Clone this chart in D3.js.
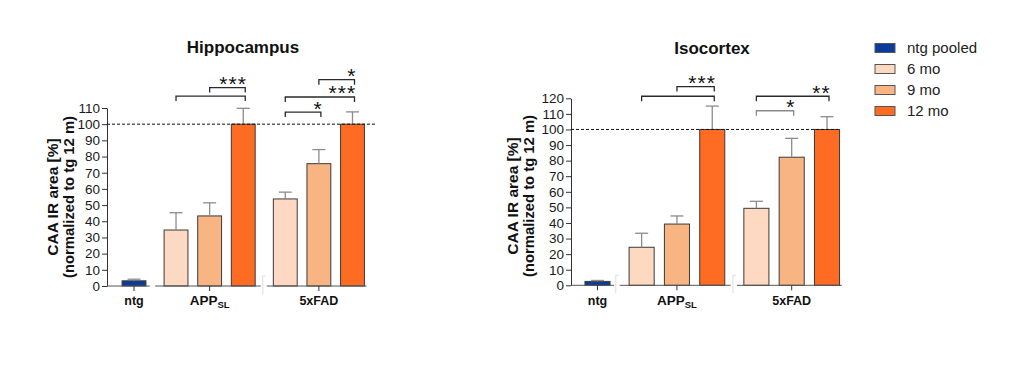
<!DOCTYPE html>
<html><head><meta charset="utf-8">
<script src="https://cdn.jsdelivr.net/npm/d3@7"></script>
<style>
body{margin:0;background:#fff;}
svg{display:block;font-family:"Liberation Sans",Arial,sans-serif;}
</style></head>
<body><svg id="c" width="1016" height="375"></svg>
<script>
// ---------- data ----------
const groups = ["ntg", "APPSL", "5xFAD"];
const ages = ["6 mo", "9 mo", "12 mo"];
const legendLabels = ["ntg pooled", "6 mo", "9 mo", "12 mo"];
const panelTitles = ["Hippocampus", "Isocortex"];
const yTitle1 = "CAA IR area [%]";
const yTitle2 = "(normalized to tg 12 m)";

// Hippocampus: means and SEM
const hippoNtg = [3.2];      const hippoNtgErr = [1.0];
const hippoApp = [34.6, 43.3, 100];   const hippoAppErr = [10.7, 8.1, 9.8];
const hippo5x  = [53.8, 75.6, 100];   const hippo5xErr  = [4.2, 8.7, 7.6];
const hippoTicks = [0,10,20,30,40,50,60,70,80,90,100,110];

// Isocortex: means and SEM
const isoNtg = [2.5];        const isoNtgErr = [0.6];
const isoApp = [24.4, 39.3, 100];     const isoAppErr = [9.0, 5.2, 15.0];
const iso5x  = [49.4, 82.2, 100];     const iso5xErr  = [4.5, 12.1, 8.2];
const isoTicks = [0,10,20,30,40,50,60,70,80,90,100,110,120];

// significance brackets: group, from age idx, to age idx, height (data units), label
const hippoSig = [
  ["APPSL", 0, 2, 117.4, ""],
  ["APPSL", 1, 2, 122.6, "***"],
  ["5xFAD", 0, 1, 107.5, "*"],
  ["5xFAD", 0, 2, 116.8, "***"],
  ["5xFAD", 1, 2, 127.5, "*"]
];
const isoSig = [
  ["APPSL", 0, 2, 121.3, ""],
  ["APPSL", 1, 2, 127.5, "***"],
  ["5xFAD", 0, 2, 121.3, "**"],
  ["5xFAD", 0, 1, 112.0, "*"]
];

// ---------- styles ----------
const colNtg = "#0c3b9c";
const ageColors = ["#fcd9c0", "#f9b484", "#fe6b23"];
const legendColors = [colNtg].concat(ageColors);

const svg = d3.select("#c");

function drawPanel(cfg) {
  const g = svg.append("g");
  const y = d3.scaleLinear().domain([0, cfg.ymax]).range([cfg.y0, cfg.y1]);
  const GAP = 1.25;
  const x = d3.scaleLinear().domain([0, 2 * GAP + 4]).range([cfg.xFirst, cfg.xLast]);
  const step = x(1) - x(0);
  const bw = step * 0.71;
  const unitOf = (grp, i) => grp === "ntg" ? 0 : (grp === "APPSL" ? GAP + i : 2 * GAP + 2 + i);

  const bars = [{grp: "ntg", i: 0, v: cfg.ntg[0], e: cfg.ntgErr[0], c: colNtg}];
  cfg.app.forEach((v, i) => bars.push({grp: "APPSL", i, v, e: cfg.appErr[i], c: ageColors[i]}));
  cfg.fx.forEach((v, i) => bars.push({grp: "5xFAD", i, v, e: cfg.fxErr[i], c: ageColors[i]}));

  // title
  g.append("text").attr("x", cfg.titleX).attr("y", cfg.titleY)
    .attr("text-anchor", "middle").attr("font-size", 17).attr("font-weight", "bold")
    .attr("fill", "#111").text(cfg.title);

  // y axis titles
  [[yTitle1, cfg.yt1, 15.5], [yTitle2, cfg.yt2, 14.8]].forEach(([t, bx, fs]) => {
    g.append("text").attr("transform", `translate(${bx},${cfg.ytY}) rotate(-90)`)
      .attr("text-anchor", "middle").attr("font-size", fs).attr("font-weight", "bold")
      .attr("fill", "#111").text(t);
  });

  // y axis
  const ax = g.append("g").attr("transform", `translate(${cfg.axisX},0)`)
    .call(d3.axisLeft(y).tickValues(cfg.ticks).tickSize(5).tickPadding(2).tickSizeOuter(0));
  ax.select(".domain").attr("stroke", "#333");
  ax.selectAll(".tick line").attr("stroke", "#333");
  ax.selectAll(".tick text").attr("font-size", 13.5).attr("fill", "#1a1a1a")
    .attr("font-family", "Liberation Sans, Arial, sans-serif");

  // bars
  g.selectAll("rect.bar").data(bars).enter().append("rect")
    .attr("x", d => x(unitOf(d.grp, d.i)) - bw / 2)
    .attr("y", d => y(d.v))
    .attr("width", bw)
    .attr("height", d => y(0) - y(d.v))
    .attr("fill", d => d.c)
    .attr("stroke", "#3a3a3a").attr("stroke-width", 1);

  // error bars
  const eb = g.selectAll("g.eb").data(bars).enter().append("g");
  eb.append("line")
    .attr("x1", d => x(unitOf(d.grp, d.i))).attr("x2", d => x(unitOf(d.grp, d.i)))
    .attr("y1", d => y(d.v)).attr("y2", d => y(d.v + d.e))
    .attr("stroke", "#8c8c8c").attr("stroke-width", 1.3);
  eb.append("line")
    .attr("x1", d => x(unitOf(d.grp, d.i)) - 6.5).attr("x2", d => x(unitOf(d.grp, d.i)) + 6.5)
    .attr("y1", d => y(d.v + d.e)).attr("y2", d => y(d.v + d.e))
    .attr("stroke", "#8c8c8c").attr("stroke-width", 1.3);

  // x axis segments
  const y0 = y(0);
  const segs = [
    [cfg.axisX, x(0) + step * 0.47],
    [x(unitOf("APPSL", 0)) - step * 0.62, x(unitOf("APPSL", 2)) + step * 0.52],
    [x(unitOf("5xFAD", 0)) - step * 0.55, x(unitOf("5xFAD", 2)) + step * 0.42]
  ];
  segs.forEach(s => g.append("line").attr("x1", s[0]).attr("x2", s[1]).attr("y1", y0).attr("y2", y0)
    .attr("stroke", "#555").attr("stroke-width", 1));
  // faint break marks
  cfg.breaks.forEach(k => {
    const bx = segs[k][0] - 4;
    g.append("path").attr("d", `M${bx + 3},${y0 - 10}H${bx}V${y0 + 8}`)
      .attr("fill", "none").attr("stroke", "#e2e2e2").attr("stroke-width", 1.2);
  });

  // x ticks & labels
  groups.forEach(grp => {
    const cx = x(unitOf(grp, grp === "ntg" ? 0 : 1));
    g.append("line").attr("x1", cx).attr("x2", cx).attr("y1", y0).attr("y2", y0 + 5)
      .attr("stroke", "#333");
    const t = g.append("text").attr("x", cx).attr("y", 305).attr("text-anchor", "middle")
      .attr("font-size", 12.5).attr("font-weight", "bold").attr("fill", "#111");
    if (grp === "APPSL") {
      t.append("tspan").attr("font-size", 13.5).text("APP");
      t.append("tspan").attr("font-size", 9.5).attr("dy", 3).text("SL");
    } else t.text(grp);
  });

  // dashed 100% line
  g.append("line").attr("x1", cfg.axisX).attr("x2", cfg.dashEnd)
    .attr("y1", y(100)).attr("y2", y(100))
    .attr("stroke", "#111").attr("stroke-width", 1).attr("stroke-dasharray", "3,2");

  // significance brackets
  cfg.sig.forEach(([grp, a, b, h, lab]) => {
    const xa = x(unitOf(grp, a)), xb = x(unitOf(grp, b)) + 2, yy = y(h);
    const col = (lab === "*" && grp === "5xFAD" && cfg.greySig) ? "#8a8a8a" : "#2a2a2a";
    g.append("path").attr("d", `M${xa},${yy + 5}V${yy}H${xb}V${yy + 5}`)
      .attr("fill", "none").attr("stroke", col).attr("stroke-width", 1.3);
    if (lab) g.append("text").attr("x", xb + 2).attr("y", yy + 3.5)
      .attr("text-anchor", "end").attr("font-size", 21).attr("letter-spacing", 1.2)
      .attr("fill", "#111").text(lab);
  });
}

drawPanel({title: panelTitles[0], titleX: 243, titleY: 53, ymax: 110, y0: 286, y1: 108, 
  xFirst: 134, xLast: 352.5, axisX: 107, ticks: hippoTicks,
  ntg: hippoNtg, ntgErr: hippoNtgErr, app: hippoApp, appErr: hippoAppErr, fx: hippo5x, fxErr: hippo5xErr,
  sig: hippoSig, yt1: 58, yt2: 74, ytY: 197, dashEnd: 375, breaks: [2], greySig: false});

drawPanel({title: panelTitles[1], titleX: 712, titleY: 54, ymax: 120, y0: 285.3, y1: 98.3,
  xFirst: 597.5, xLast: 827, axisX: 571, ticks: isoTicks,
  ntg: isoNtg, ntgErr: isoNtgErr, app: isoApp, appErr: isoAppErr, fx: iso5x, fxErr: iso5xErr,
  sig: isoSig, yt1: 518, yt2: 534, ytY: 196, dashEnd: 838, breaks: [1, 2], greySig: true});

// legend
const lg = svg.append("g");
legendLabels.forEach((l, i) => {
  const cy = 48 + i * 21;
  lg.append("rect").attr("x", 875).attr("y", cy - 4.5).attr("width", 20).attr("height", 9)
    .attr("fill", legendColors[i]).attr("stroke", "#555").attr("stroke-width", 1);
  lg.append("text").attr("x", 907).attr("y", cy + 5).attr("font-size", 15).attr("fill", "#222").text(l);
});
</script></body></html>
